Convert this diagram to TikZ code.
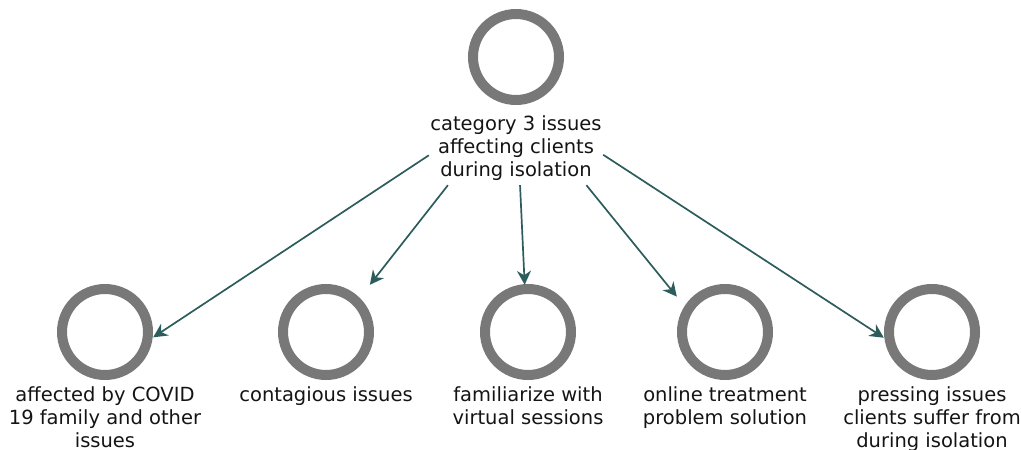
\documentclass[tikz,border=0pt]{standalone}
\usepackage{fontspec}
\setmainfont{DejaVu Sans}
\usetikzlibrary{arrows.meta}
\definecolor{ringgray}{RGB}{120,120,120}
\definecolor{edgeteal}{RGB}{44,92,92}
\definecolor{labeltext}{RGB}{20,20,20}
\tikzset{
  ring/.style={circle, draw=ringgray, line width=10pt, minimum size=86pt, inner sep=0pt, fill=white},
  hitbox/.style={rectangle, draw=none, inner sep=0pt},
  caption/.style={anchor=north, inner sep=0pt, align=center, text=labeltext,
    font=\fontsize{19.5}{23}\selectfont},
  link/.style={draw=edgeteal, line width=1.7pt,
    -{Stealth[length=14pt,width=14pt,inset=4.5pt]}}
}
\begin{document}
\begin{tikzpicture}[x=1pt,y=-1pt]
\useasboundingbox (0,0) rectangle (1021,450);

% root node: ring, caption and the box that the links leave from
\node[ring] (c0) at (516,57) {};
\node[caption] (l0) at (516,113.9) {\strut category 3 issues\\affecting clients\\during isolation};
\node[hitbox, minimum width=174pt, minimum height=174pt] (hub) at (516,98) {};

% child nodes: ring, caption, and a box whose upper half follows the ring's square
\node[ring] (c1) at (105,332) {};
\node[caption] (l1) at (105,384.9) {\strut affected by COVID\\19 family and other\\issues};
\node[hitbox, minimum width=96pt, minimum height=168pt] (t1) at (105,369) {};

\node[ring] (c2) at (326,332) {};
\node[caption] (l2) at (326,384.9) {\strut contagious issues};
\node[hitbox, minimum width=96pt, minimum height=112pt] (t2) at (326,341) {};

\node[ring] (c3) at (528,332) {};
\node[caption] (l3) at (528,384.9) {\strut familiarize with\\virtual sessions};
\node[hitbox, minimum width=96pt, minimum height=142pt] (t3) at (528,356) {};

\node[ring] (c4) at (725,332) {};
\node[caption] (l4) at (725,384.9) {\strut online treatment\\problem solution};
\node[hitbox, minimum width=96pt, minimum height=142pt] (t4) at (725,356) {};

\node[ring] (c5) at (932,332) {};
\node[caption] (l5) at (932,384.9) {\strut pressing issues\\clients suffer from\\during isolation};
\node[hitbox, minimum width=96pt, minimum height=168pt] (t5) at (932,369) {};

% links
\foreach \t in {t1,t2,t3,t4,t5}
  \draw[link] (hub) -- (\t);
\end{tikzpicture}
\end{document}
